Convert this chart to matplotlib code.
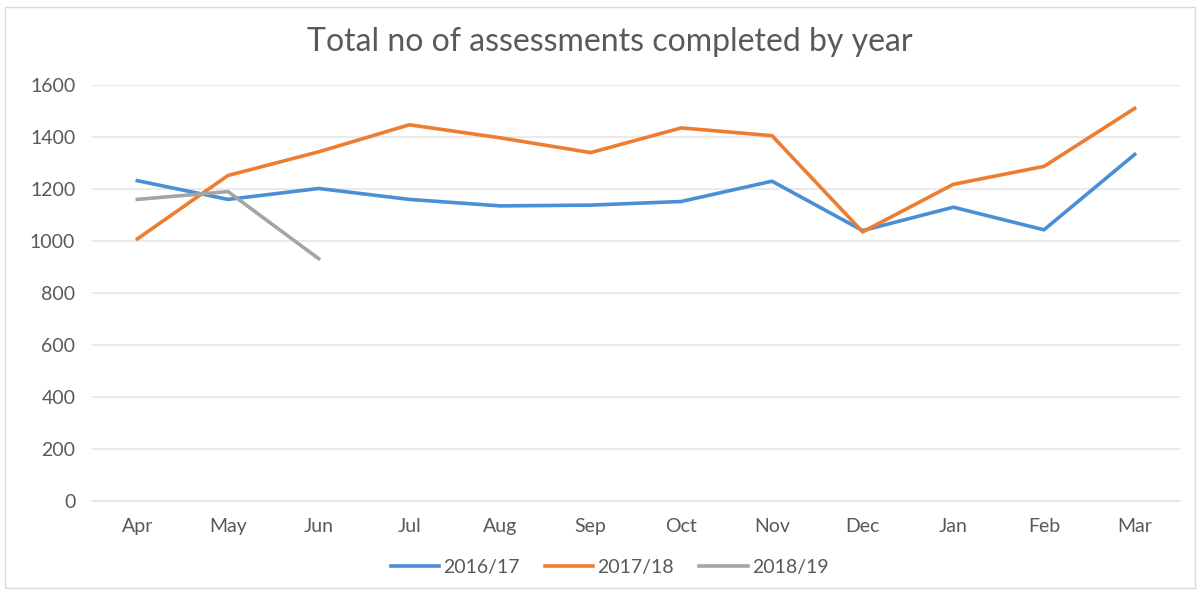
import matplotlib
matplotlib.use("Agg")
import matplotlib.pyplot as plt
from matplotlib.patches import Rectangle

months = ["Apr", "May", "Jun", "Jul", "Aug", "Sep", "Oct", "Nov", "Dec", "Jan", "Feb", "Mar"]
s2016 = [1232, 1160, 1202, 1160, 1135, 1138, 1152, 1230, 1040, 1130, 1043, 1333]
s2017 = [1008, 1252, 1343, 1447, 1397, 1340, 1435, 1405, 1035, 1218, 1287, 1510]
s2018 = [1160, 1190, 932]
series_names = ["2016/17", "2017/18", "2018/19"]
colors = ["#4A8FD6", "#ED7D31", "#A5A5A5"]
yticks = [0, 200, 400, 600, 800, 1000, 1200, 1400, 1600]

plt.rcParams['font.family'] = ['Lato', 'DejaVu Sans']

fig = plt.figure(figsize=(12.02, 5.94), dpi=100)
fig.patches.append(Rectangle((5/1202, 0.01), 1190/1202, 1 - 7/594 - 0.01, transform=fig.transFigure,
                             fill=False, edgecolor="#D9D9D9", linewidth=1.0))
ax = fig.add_axes([92/1202, 1 - 501/594, (1180 - 92)/1202, (501 - 85)/594])

x = list(range(len(months)))
for vals, name, c in zip([s2016, s2017, s2018], series_names, colors):
    ax.plot(x[:len(vals)], vals, color=c, linewidth=2.6, label=name, solid_joinstyle='round')

ax.set_xlim(-0.5, 11.5)
ax.set_ylim(0, 1600)
ax.set_yticks(yticks)
ax.set_xticks(x)
ax.set_xticklabels(months)
ax.grid(axis='y', color="#E6E6E6", linewidth=1.2)
ax.set_axisbelow(True)
for s in ax.spines.values():
    s.set_visible(False)
ax.spines['bottom'].set_visible(True)
ax.spines['bottom'].set_color("#E6E6E6")
ax.spines['bottom'].set_linewidth(1.2)
ax.tick_params(axis='both', length=0, labelsize=14, colors="#595959")
ax.tick_params(axis='x', pad=12)
ax.tick_params(axis='y', pad=12)

fig.text(0.507, 1 - 42/594, "Total no of assessments completed by year", ha='center', va='center',
         fontsize=23, color="#595959")

leg = fig.legend(loc='center', bbox_to_anchor=(0.507, 1 - 567/594), ncol=3, frameon=False,
                 fontsize=14, handlelength=2.5, columnspacing=1.3, handletextpad=0.2)
for t in leg.get_texts():
    t.set_color("#595959")

fig.savefig("out.png", dpi=100)
